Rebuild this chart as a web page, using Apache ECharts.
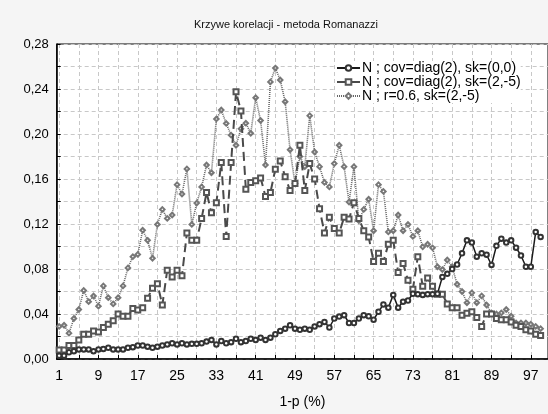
<!DOCTYPE html>
<html>
<head>
<meta charset="utf-8">
<script src="https://cdn.jsdelivr.net/npm/echarts@6/dist/echarts.min.js"></script>
<style>
  html, body { margin: 0; padding: 0; background: #f5f5f5; }
  #chart { width: 548px; height: 414px; }
</style>
</head>
<body>
<div id="chart"></div>
<script>
// Correlation curves, Romanazzi method: x = 1-p (%), three simulated settings
const xValues = Array.from({ length: 99 }, (_, i) => i + 1);

const seriesNames = [
  'N ; cov=diag(2), sk=(0,0)',
  'N ; cov=diag(2), sk=(2,-5)',
  'N ; r=0.6, sk=(2,-5)'
];

const covDiagSk00 = [
  0.003, 0.003, 0.006, 0.007, 0.0085, 0.0085, 0.0085, 0.007, 0.0085, 0.009,
  0.010, 0.0085, 0.0085, 0.0085, 0.010, 0.0105, 0.012, 0.012, 0.011, 0.010,
  0.011, 0.012, 0.013, 0.014, 0.013, 0.014, 0.013, 0.0135, 0.0135, 0.014,
  0.0155, 0.017, 0.013, 0.016, 0.014, 0.015, 0.018, 0.015, 0.016, 0.018,
  0.017, 0.019, 0.017, 0.019, 0.022, 0.025, 0.027, 0.030, 0.027, 0.026,
  0.027, 0.026, 0.029, 0.031, 0.033, 0.028, 0.036, 0.0377, 0.039, 0.032,
  0.032, 0.036, 0.039, 0.038, 0.035, 0.042, 0.0485, 0.0456, 0.057, 0.0456,
  0.051, 0.052, 0.058, 0.0576, 0.057, 0.0576, 0.0576, 0.058, 0.073, 0.0757,
  0.080, 0.084, 0.094, 0.1055, 0.1035, 0.091, 0.094, 0.0927, 0.0836, 0.1006,
  0.107, 0.1035, 0.1055, 0.099, 0.092, 0.082, 0.082, 0.113, 0.1085
];

const covDiagSk25 = [
  0.008, 0.008, 0.012, 0.012, 0.017, 0.022, 0.022, 0.025, 0.024, 0.028,
  0.031, 0.034, 0.040, 0.038, 0.038, 0.045, 0.0436, 0.0456, 0.054, 0.063,
  0.067, 0.048, 0.079, 0.073, 0.079, 0.074, 0.112, 0.1055, 0.1055, 0.125,
  0.148, 0.130, 0.139, 0.1746, 0.109, 0.1746, 0.2375, 0.2205, 0.151, 0.157,
  0.1585, 0.161, 0.1445, 0.148, 0.1687, 0.176, 0.162, 0.1497, 0.156, 0.19,
  0.1497, 0.1737, 0.16, 0.1336, 0.112, 0.126, 0.116, 0.112, 0.126, 0.1245,
  0.139, 0.125, 0.114, 0.1085, 0.0866, 0.094, 0.0866, 0.102, 0.1055, 0.077,
  0.085, 0.070, 0.062, 0.091, 0.0646, 0.072, 0.0646, 0.0576, 0.0576, 0.049,
  0.0456, 0.0456, 0.039, 0.0406, 0.042, 0.037, 0.029, 0.040, 0.040, 0.036,
  0.035, 0.035, 0.033, 0.030, 0.029, 0.026, 0.025, 0.022, 0.021
];

const r06Sk25 = [
  0.029, 0.030, 0.023, 0.036, 0.044, 0.061, 0.051, 0.056, 0.047, 0.065,
  0.0545, 0.049, 0.0545, 0.065, 0.081, 0.091, 0.093, 0.1145, 0.1055, 0.0895,
  0.1196, 0.133, 0.125, 0.128, 0.155, 0.1466, 0.169, 0.1196, 0.1386, 0.153,
  0.1725, 0.1655, 0.2134, 0.2213, 0.2094, 0.199, 0.19, 0.2046, 0.2096, 0.2006,
  0.2322, 0.212, 0.1725, 0.2463, 0.2586, 0.248, 0.2287, 0.186, 0.156, 0.18,
  0.171, 0.2163, 0.184, 0.171, 0.157, 0.153, 0.1737, 0.19, 0.171, 0.1395,
  0.171, 0.123, 0.133, 0.142, 0.114, 0.155, 0.149, 0.113, 0.114, 0.128,
  0.114, 0.1196, 0.109, 0.114, 0.0997, 0.102, 0.0988, 0.082, 0.0795, 0.088,
  0.082, 0.0664, 0.060, 0.050, 0.0588, 0.050, 0.0561, 0.048, 0.041, 0.040,
  0.041, 0.044, 0.038, 0.032, 0.032, 0.032, 0.031, 0.029, 0.027
];

const xTickValues = [1, 5, 9, 13, 17, 21, 25, 29, 33, 37, 41, 45, 49, 53, 57, 61, 65, 69, 73, 77, 81, 85, 89, 93, 97];
const xLabelValues = [1, 9, 17, 25, 33, 41, 49, 57, 65, 73, 81, 89, 97];

const pairs = ys => xValues.map((x, i) => [x, ys[i]]);

const font = '"Liberation Sans", Arial, sans-serif';

const chart = echarts.init(document.getElementById('chart'), null, { renderer: 'canvas' });

chart.setOption({
  backgroundColor: '#f5f5f5',
  animation: false,
  title: {
    text: 'Krzywe korelacji - metoda Romanazzi',
    left: 189,
    top: 14,
    textStyle: { fontFamily: font, fontSize: 11, fontWeight: 'normal', color: '#111' }
  },
  legend: {
    orient: 'vertical',
    left: 336,
    top: 61,
    itemWidth: 23,
    itemHeight: 7,
    itemGap: 0,
    backgroundColor: '#fff',
    padding: 0,
    textStyle: { fontFamily: font, fontSize: 14, color: '#000', lineHeight: 13.5, padding: [0, 0, 0, -3] },
    data: seriesNames
  },
  grid: {
    left: 56.7,
    right: -7,
    top: 44,
    bottom: 50.7,
    show: true,
    backgroundColor: '#fff',
    borderColor: '#000',
    borderWidth: 1
  },
  xAxis: {
    type: 'value',
    min: 0.5,
    max: 100.5,
    name: '1-p (%)',
    nameLocation: 'middle',
    nameGap: 36,
    nameTextStyle: { fontFamily: font, fontSize: 14, color: '#000' },
    axisLine: { show: true, lineStyle: { color: '#000', width: 1.5 } },
    axisTick: { show: true, inside: true, length: 4, lineStyle: { color: '#000' }, customValues: xTickValues },
    axisLabel: { fontFamily: font, fontSize: 14, color: '#000', margin: 10, customValues: xLabelValues },
    splitLine: { show: true, lineStyle: { color: '#c8c8c8', type: [4, 3], width: 1 } }
  },
  yAxis: {
    type: 'value',
    min: 0,
    max: 0.28,
    interval: 0.02,
    axisLine: { show: true, lineStyle: { color: '#000', width: 1.5 } },
    axisTick: { show: true, inside: true, length: 4, lineStyle: { color: '#000' } },
    axisLabel: {
      fontFamily: font, fontSize: 13, color: '#000', margin: 8,
      formatter: v => (Math.round(v * 100) % 4 === 0 ? v.toFixed(2).replace('.', ',') : '')
    },
    splitLine: { show: true, lineStyle: { color: '#c8c8c8', type: [4, 3], width: 1 } }
  },
  series: [
    {
      name: seriesNames[0],
      type: 'line',
      data: pairs(covDiagSk00),
      symbol: 'emptyCircle',
      symbolSize: 4.5,
      lineStyle: { color: '#1a1a1a', width: 1.5 },
      itemStyle: { color: '#333', borderWidth: 0.9 },
      z: 3
    },
    {
      name: seriesNames[1],
      type: 'line',
      data: pairs(covDiagSk25),
      symbol: 'emptyRect',
      symbolSize: 5,
      lineStyle: { color: '#4a4a4a', width: 2, type: [9, 5] },
      itemStyle: { color: '#555', borderWidth: 0.9 },
      z: 2
    },
    {
      name: seriesNames[2],
      type: 'line',
      data: pairs(r06Sk25),
      symbol: 'emptyDiamond',
      symbolSize: 4.5,
      lineStyle: { color: '#666', width: 1.6, type: [1, 1] },
      itemStyle: { color: '#777', borderWidth: 0.8 },
      z: 1
    }
  ]
});
</script>
</body>
</html>
